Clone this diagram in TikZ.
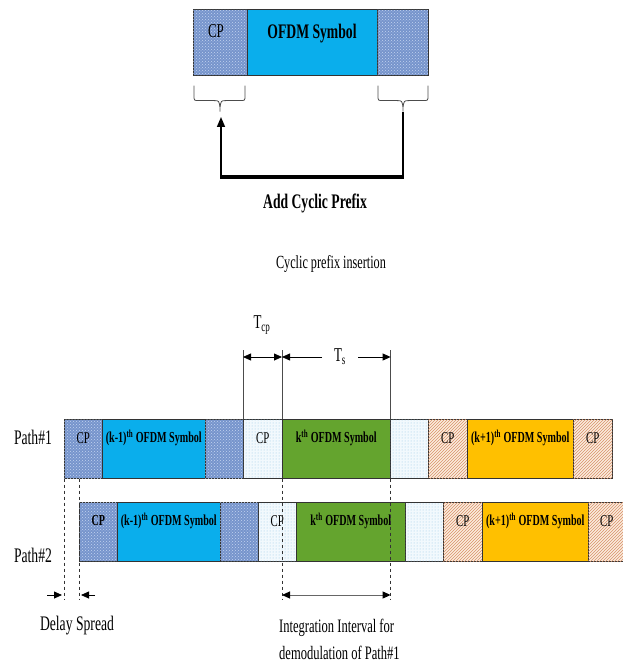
\documentclass[tikz,border=0pt]{standalone}
\usepackage{fontspec}
\setmainfont{Liberation Serif}[FakeStretch=0.66]
\usetikzlibrary{arrows.meta,patterns}
\definecolor{texbase}{RGB}{118,148,204}
\definecolor{texlight}{RGB}{195,212,240}
\definecolor{symblue}{RGB}{10,174,236}
\definecolor{symgreen}{RGB}{100,164,46}
\definecolor{symyellow}{RGB}{255,192,0}
\definecolor{dotfill}{RGB}{242,249,253}
\definecolor{dotcol}{RGB}{150,198,230}
\definecolor{hatchfill}{RGB}{252,236,222}
\definecolor{hatchcol}{RGB}{215,145,105}
\begin{document}
\begin{tikzpicture}[x=1pt,y=-1pt,
  blk/.style={draw=black!80, line width=0.6pt, inner sep=0pt, anchor=north west, minimum height=59pt},
  texblk/.style={blk, fill=texbase, postaction={pattern=crosshatch dots, pattern color=texlight}},
  blueblk/.style={blk, fill=symblue},
  greenblk/.style={blk, fill=symgreen},
  yellowblk/.style={blk, fill=symyellow},
  dotblk/.style={blk, fill=dotfill, postaction={pattern=dots, pattern color=dotcol}},
  hatchblk/.style={blk, fill=hatchfill, postaction={pattern=north east lines, pattern color=hatchcol}},
  lbl/.style={inner sep=0pt, font=\fontsize{16.4}{18}\selectfont},
  blbl/.style={inner sep=0pt, font=\fontsize{15.3}{17}\selectfont\bfseries},
  vl/.style={draw=black!70, line width=0.6pt},
  tip/.style={-{Triangle[length=8pt,width=7pt]}},
  dimline/.style={line width=0.8pt},
  dsh/.style={dashed, draw=black!80, line width=0.6pt},
  bracestyle/.style={draw=black!70, line width=0.8pt}
]
\useasboundingbox (0,0) rectangle (623,666);

% ---------- top: cyclic prefix insertion ----------
\node[texblk, minimum width=54pt, minimum height=66pt] (tA) at (193,9) {};
\node[blueblk, minimum width=130pt, minimum height=66pt] (tB) at (247,9) {};
\node[texblk, minimum width=51pt, minimum height=66pt] (tC) at (377,9) {};
\node[inner sep=0pt, font=\fontsize{19.6}{21}\selectfont] (tcp) at (216,31) {CP};
\node[inner sep=0pt, font=\fontsize{20.7}{22}\selectfont\bfseries] (tsym) at (312,34) {OFDM Symbol};

% braces
\draw[bracestyle, shift={(tA.south west)}]
  (1,10) -- (1,20) .. controls (1,25) .. (6,25) -- (21,25) .. controls (26,25) .. (27,32) -- (27,36)
  (27,32) .. controls (28,25) .. (33,25) -- (47,25) .. controls (52,25) .. (52,20) -- (52,10);
\draw[bracestyle, shift={(tC.south west)}]
  (1,10) -- (1,20) .. controls (1,25) .. (6,25) -- (20,25) .. controls (25,25) .. (26,32) -- (26,36)
  (26,32) .. controls (27,25) .. (32,25) -- (46,25) .. controls (51,25) .. (51,20) -- (51,10);
\coordinate (rtip) at (403,112);
\coordinate (rbot) at (403,177);
\coordinate (lbot) at (221,177);
\coordinate (ltip) at (221,117);
\draw[line width=1.6pt] (rtip) -- (rbot);
\draw[line width=3.6pt] ([xshift=0.8pt]rbot) -- ([xshift=-0.8pt]lbot);
\draw[line width=1.6pt, -{Triangle[length=10pt,width=8pt]}] ([yshift=1.8pt]lbot) -- (ltip);
\node[inner sep=0pt, font=\fontsize{20.7}{22}\selectfont\bfseries] (acp) at (315,203) {Add Cyclic Prefix};
\node[inner sep=0pt, font=\fontsize{18.5}{20}\selectfont] (cpi) at (331,264) {Cyclic prefix insertion};

% ---------- Path #1 ----------
\node[texblk, minimum width=38pt] (a1) at (64,419) {};
\node[blueblk, minimum width=103pt] (b1) at (102,419) {};
\node[texblk, minimum width=38pt] (c1) at (205,419) {};
\node[dotblk, minimum width=39pt] (d1) at (243,419) {};
\node[greenblk, minimum width=108pt] (e1) at (282,419) {};
\node[dotblk, minimum width=38pt] (f1) at (390,419) {};
\node[hatchblk, minimum width=39pt] (g1) at (428,419) {};
\node[yellowblk, minimum width=106pt] (h1) at (467,419) {};
\node[hatchblk, minimum width=39pt] (i1) at (573,419) {};

\node[lbl] at ([yshift=11pt]a1.center) {CP};
\node[blbl] at ([yshift=11pt]b1.center) {(k-1)\textsuperscript{th} OFDM Symbol};
\node[lbl] at ([yshift=11pt]d1.center) {CP};
\node[blbl] at ([yshift=11pt]e1.center) {k\textsuperscript{th} OFDM Symbol};
\node[lbl] at ([yshift=11pt]g1.center) {CP};
\node[blbl] at ([yshift=11pt]h1.center) {(k+1)\textsuperscript{th} OFDM Symbol};
\node[lbl] at ([yshift=11pt]i1.center) {CP};

% ---------- Path #2 ----------
\node[texblk, minimum width=38pt] (a2) at (79,502) {};
\node[blueblk, minimum width=103pt] (b2) at (117,502) {};
\node[texblk, minimum width=38pt] (c2) at (220,502) {};
\node[dotblk, minimum width=38pt] (d2) at (258,502) {};
\node[greenblk, minimum width=109pt] (e2) at (296,502) {};
\node[dotblk, minimum width=38pt] (f2) at (405,502) {};
\node[hatchblk, minimum width=39pt] (g2) at (443,502) {};
\node[yellowblk, minimum width=106pt] (h2) at (482,502) {};
\node[hatchblk, minimum width=45pt] (i2) at (588,502) {};

\node[blbl] at ([yshift=11pt]a2.center) {CP};
\node[blbl] at ([yshift=11pt]b2.center) {(k-1)\textsuperscript{th} OFDM Symbol};
\node[lbl] at ([yshift=11pt]d2.center) {CP};
\node[blbl] at ([yshift=11pt]e2.center) {k\textsuperscript{th} OFDM Symbol};
\node[lbl] at ([yshift=11pt]g2.center) {CP};
\node[blbl] at ([yshift=11pt]h2.center) {(k+1)\textsuperscript{th} OFDM Symbol};
\node[lbl, anchor=west] at ([xshift=12pt,yshift=11pt]i2.west) {CP};

% path labels
\node[inner sep=0pt, font=\fontsize{20.7}{22}\selectfont] (p1) at (33,437) {Path\#1};
\node[inner sep=0pt, font=\fontsize{20.7}{22}\selectfont] (p2) at (33,555) {Path\#2};

% ---------- T_cp and T_s ----------
\coordinate (dimy) at (0,357);
\coordinate (topy) at (0,350);
\draw[vl] (d1.north west) -- (d1.north west |- topy);
\draw[vl] (e1.north west) -- (e1.north west |- topy);
\draw[vl] (e1.north east) -- (e1.north east |- topy);
\draw[dimline, {Triangle[length=8pt,width=7pt]}-{Triangle[length=8pt,width=7pt]}]
  (d1.north west |- dimy) -- (e1.north west |- dimy);
\draw[dimline, tip] (322,357) -- (e1.north west |- dimy);
\draw[dimline, tip] (358,357) -- (e1.north east |- dimy);
\node[inner sep=0pt, font=\fontsize{19.6}{21}\selectfont] (tcplbl) at (262,325) {T\textsubscript{cp}};
\node[inner sep=0pt, font=\fontsize{19.6}{21}\selectfont] (tslbl) at (340,357) {T\textsubscript{s}};

% ---------- dashed guides ----------
\coordinate (dashy) at (0,600);
\coordinate (arry) at (0,595);
\draw[dsh] (a1.south west) -- (a1.south west |- dashy);
\draw[dsh] (a2.west |- a1.south) -- (a2.west |- dashy);
\draw[dsh] (e1.south west) -- (e1.south west |- dashy);
\draw[dsh] (e1.south east) -- (e1.south east |- dashy);

% delay spread arrows
\coordinate (ds1) at (47,595);
\coordinate (ds2) at (95,595);
\draw[dimline, tip] (ds1) -- ([xshift=-2pt]a1.south west |- arry);
\draw[dimline, tip] (ds2) -- ([xshift=2pt]a2.west |- arry);
\node[inner sep=0pt, font=\fontsize{20.7}{22}\selectfont] (dsl) at (77,626) {Delay Spread};

% integration interval arrow
\draw[draw=black!60, line width=1pt, {Triangle[length=8pt,width=7pt,black]}-{Triangle[length=8pt,width=7pt,black]}]
  (e1.south west |- arry) -- (e1.south east |- arry);
\node[inner sep=0pt, anchor=north west, align=left, font=\fontsize{19}{27}\selectfont] (intl) at (279,619)
  {Integration Interval for\\demodulation of Path\#1};
\end{tikzpicture}
\end{document}
